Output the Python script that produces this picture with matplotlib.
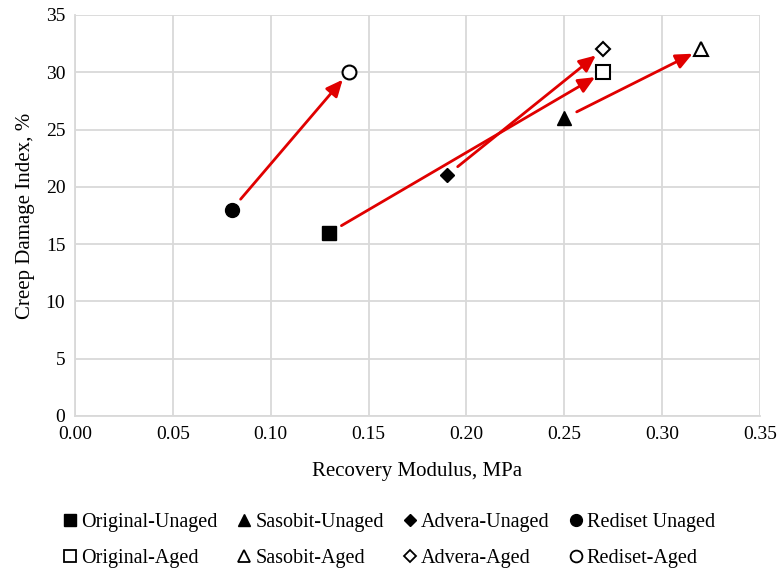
import matplotlib
matplotlib.use("Agg")
import matplotlib.pyplot as plt
from matplotlib.lines import Line2D

plt.rcParams['font.family'] = ['Liberation Serif', 'DejaVu Serif']

names = ["Original", "Sasobit", "Advera", "Rediset"]
unaged_labels = ["Original-Unaged", "Sasobit-Unaged", "Advera-Unaged", "Rediset Unaged"]
aged_labels = ["Original-Aged", "Sasobit-Aged", "Advera-Aged", "Rediset-Aged"]
markers = ["s", "^", "D", "o"]
unaged_x = [0.13, 0.25, 0.19, 0.08]
unaged_y = [16, 26, 21, 18]
aged_x = [0.27, 0.32, 0.27, 0.14]
aged_y = [30, 32, 32, 30]

fig = plt.figure(figsize=(7.79, 5.70), dpi=100)
ax = fig.add_axes([0.0963, 0.2702, 0.8793, 0.7035])

msize = {"s": 10, "^": 10, "D": 7.5, "o": 10}
handles = []
labels = []
for i in range(4):
    m = markers[i]
    ax.plot(unaged_x[i], unaged_y[i], marker=m, color='black', markersize=msize[m],
            linestyle='none', zorder=4)
    ax.plot(aged_x[i], aged_y[i], marker=m, markerfacecolor='white', markeredgecolor='black',
            markeredgewidth=1.5, markersize=msize[m], linestyle='none', zorder=4)
    ax.annotate("", xy=(aged_x[i], aged_y[i]), xytext=(unaged_x[i], unaged_y[i]),
                arrowprops=dict(arrowstyle='-|>,head_length=1.0,head_width=0.45', color='#e00000',
                                lw=2, shrinkA=10, shrinkB=7), zorder=3)
    handles.append(Line2D([], [], marker=m, color='black', markersize=msize[m] * 0.85, linestyle='none'))
    labels.append(unaged_labels[i])
    handles.append(Line2D([], [], marker=m, markerfacecolor='white', markeredgecolor='black',
                          markeredgewidth=1.3, markersize=msize[m] * 0.85, linestyle='none'))
    labels.append(aged_labels[i])

ax.set_xlim(0, 0.35)
ax.set_ylim(0, 35)
ax.set_xticks([0.0, 0.05, 0.10, 0.15, 0.20, 0.25, 0.30, 0.35])
ax.set_xticklabels([f"{v:.2f}" for v in [0.0, 0.05, 0.10, 0.15, 0.20, 0.25, 0.30, 0.35]])
ax.set_yticks(range(0, 36, 5))
ax.grid(True, color='#d9d9d9', linewidth=1.3)
ax.set_axisbelow(True)
for s in ['top', 'right']:
    ax.spines[s].set_visible(False)
for s in ['left', 'bottom']:
    ax.spines[s].set_color('#d9d9d9')
    ax.spines[s].set_linewidth(1.3)
ax.tick_params(length=0, labelsize=14, pad=7)
ax.set_xlabel("Recovery Modulus, MPa", fontsize=15, labelpad=14)
ax.set_ylabel("Creep Damage Index, %", fontsize=15, labelpad=8)

fig.legend(handles, labels, ncol=4, loc='center', bbox_to_anchor=(0.497, 0.052),
           frameon=False, fontsize=14.5, handletextpad=0.0, columnspacing=0.75,
           labelspacing=0.85, handlelength=1.1)

fig.savefig("out.png", dpi=100)
